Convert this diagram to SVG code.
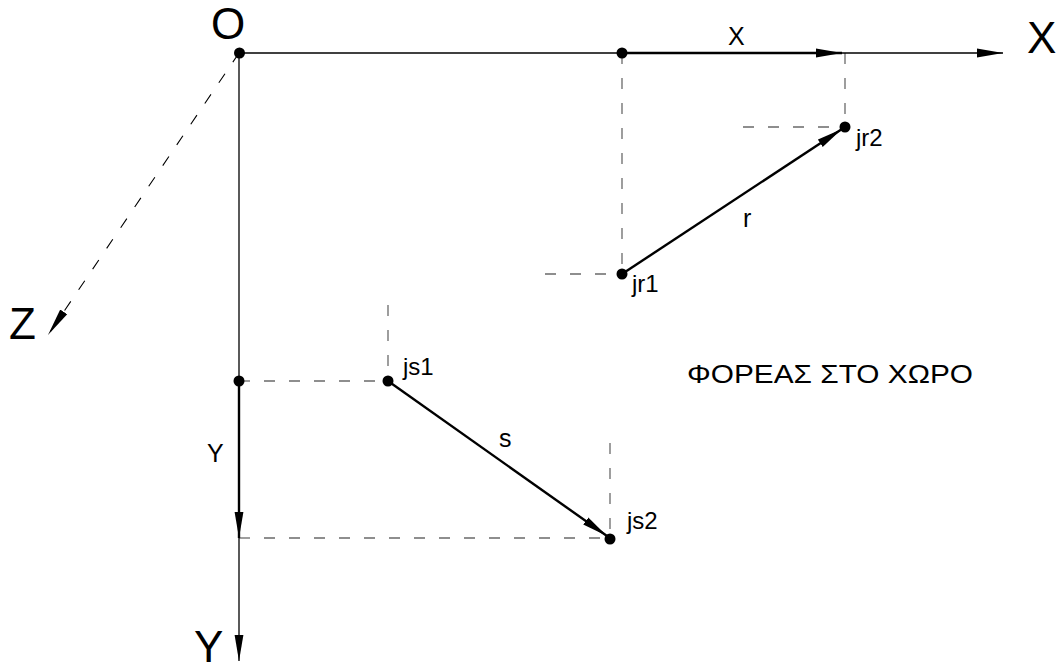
<svg xmlns="http://www.w3.org/2000/svg" width="1064" height="672" viewBox="0 0 1064 672">
<style>
.ax{stroke:#000;stroke-width:1.3;fill:none}
.vec{stroke:#000;stroke-width:2.4;fill:none}
.dash{stroke:#6a6a6a;stroke-width:1.3;stroke-dasharray:11 14;fill:none}
.dot{fill:#000}
text{font-family:"Liberation Sans",Arial,sans-serif;fill:#000}
.big{font-size:44px}
.lbl{font-size:25px}
.pt{font-size:24px}
</style>
<defs>
<marker id="ah" markerUnits="userSpaceOnUse" viewBox="0 0 26 10" refX="26" refY="5" markerWidth="26" markerHeight="10" orient="auto">
<path d="M0,0.6 L26,5 L0,9.4 z" fill="#000"/>
</marker>
<marker id="ahz" markerUnits="userSpaceOnUse" viewBox="0 0 28 10" refX="28" refY="5" markerWidth="28" markerHeight="10" orient="auto">
<path d="M0,0.8 L28,5 L0,9.2 z" fill="#000"/>
</marker>
</defs>
<rect width="1064" height="672" fill="#fff"/>
<g id="connectors">
<line class="dash" x1="622" y1="53" x2="622" y2="274"/>
<line class="dash" x1="845" y1="53" x2="845" y2="127"/>
<line class="dash" x1="743" y1="127" x2="845" y2="127"/>
<line class="dash" x1="545" y1="274" x2="622" y2="274"/>
<line class="dash" x1="239" y1="381" x2="388" y2="381"/>
<line class="dash" x1="388" y1="305" x2="388" y2="381"/>
<line class="dash" x1="239" y1="538" x2="610" y2="538"/>
<line class="dash" x1="610" y1="443" x2="610" y2="538"/>
<line class="dash" x1="239" y1="53" x2="48" y2="335" style="stroke:#000;stroke-width:1.1" marker-end="url(#ahz)"/>
<line class="ax" x1="239" y1="53" x2="1003" y2="53" marker-end="url(#ah)"/>
<line class="ax" x1="239" y1="53" x2="239" y2="661" marker-end="url(#ah)"/>
<line class="vec" x1="622" y1="53" x2="842" y2="53" marker-end="url(#ah)"/>
<line class="vec" x1="239" y1="381" x2="239" y2="538" marker-end="url(#ah)"/>
<line class="vec" x1="622" y1="274" x2="842" y2="129" marker-end="url(#ah)"/>
<line class="vec" x1="388" y1="381" x2="607" y2="536" marker-end="url(#ah)"/>
</g>
<g id="O"><circle class="dot" cx="239.5" cy="53" r="5.5"/><text class="big" x="211" y="39">O</text></g>
<g id="Xaxis"><text class="big" x="1027" y="53">X</text></g>
<g id="Yaxis"><text class="big" x="194" y="662">Y</text></g>
<g id="Zaxis"><text class="big" x="9" y="339">Z</text></g>
<g id="xproj"><circle class="dot" cx="622" cy="53" r="5.5"/><text class="lbl" x="728" y="45">X</text></g>
<g id="yproj"><circle class="dot" cx="239" cy="381" r="5.5"/><text class="lbl" x="207" y="462">Y</text></g>
<g id="jr1"><circle class="dot" cx="622" cy="274" r="5.5"/><text class="pt" x="632" y="292">jr1</text></g>
<g id="jr2"><circle class="dot" cx="845" cy="127" r="5.5"/><text class="pt" x="856" y="146">jr2</text></g>
<g id="js1"><circle class="dot" cx="388" cy="381" r="5.5"/><text class="pt" x="403" y="375">js1</text></g>
<g id="js2"><circle class="dot" cx="610" cy="539" r="5.5"/><text class="pt" x="627" y="529">js2</text></g>
<g id="r-label"><text class="lbl" x="743" y="227">r</text></g>
<g id="s-label"><text class="lbl" x="499" y="447">s</text></g>
<g id="title"><text x="687" y="383" style="font-size:26px" textLength="286" lengthAdjust="spacingAndGlyphs">ΦΟΡΕΑΣ ΣΤΟ ΧΩΡΟ</text></g>
</svg>
